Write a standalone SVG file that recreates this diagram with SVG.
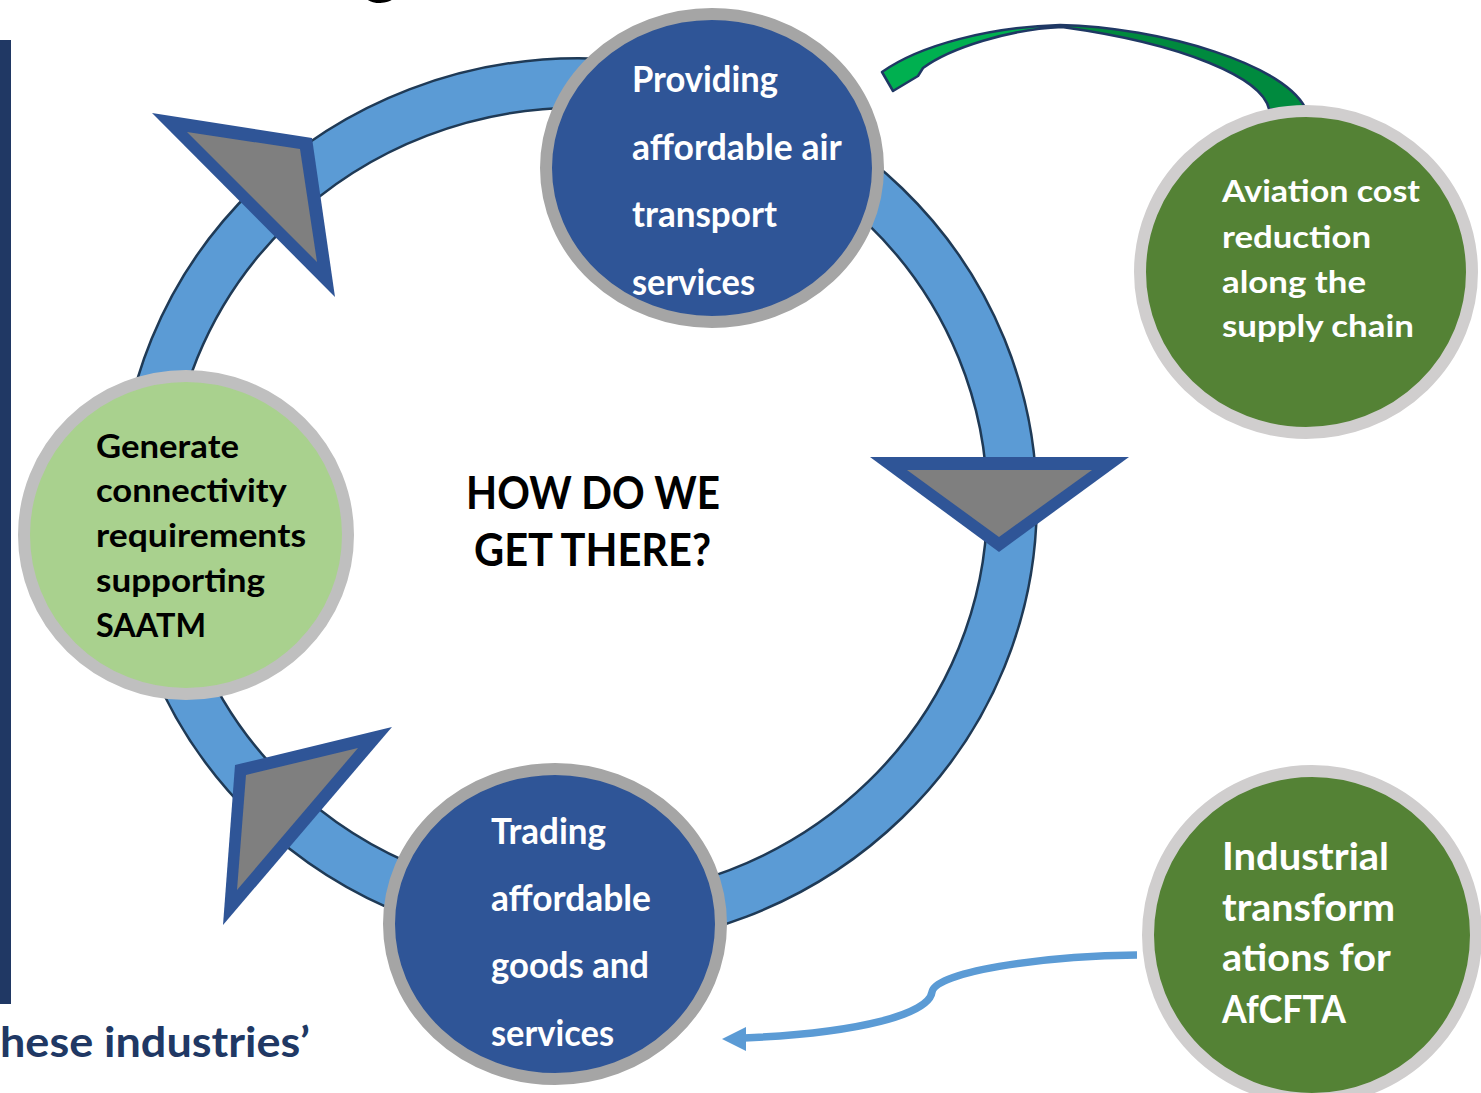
<svg xmlns="http://www.w3.org/2000/svg" width="1481" height="1093" viewBox="0 0 1481 1093">
<defs>
<style>
.t{font-family:Lato,"Open Sans","Liberation Sans",sans-serif;font-weight:bold}
.w{fill:#FFFFFF}
.k{fill:#000000}
.blue{fill:#2F5597;stroke:#A5A5A5;stroke-width:12}
.dg{fill:#548235;stroke:#D0CECE;stroke-width:12}
.lg{fill:#A9D18E;stroke:#BFBFBF;stroke-width:12}
.tri-o{fill:#2F5597}
.tri-i{fill:#7F7F7F}
</style>
<linearGradient id="gArrow" gradientUnits="userSpaceOnUse" x1="882" y1="0" x2="1307" y2="0">
<stop offset="0.42" stop-color="#00B050"/>
<stop offset="0.42" stop-color="#008A3E"/>
</linearGradient>
</defs>
<rect width="1481" height="1093" fill="#FFFFFF"/>
<text class="t k" x="362" y="-11" font-size="72">g</text>
<rect id="leftbar" x="0" y="40" width="11" height="964" fill="#203864"/>
<text class="t" x="0" y="1057" font-size="42" fill="#203864" textLength="310" lengthAdjust="spacingAndGlyphs">hese industries’</text>

<g id="connectors">
<g id="ring">
<ellipse cx="578" cy="503" rx="434" ry="420" fill="none" stroke="#1F3A56" stroke-width="52"/>
<ellipse cx="578" cy="503" rx="434" ry="420" fill="none" stroke="#5B9BD5" stroke-width="47"/>
</g>
<g id="arrow-tl">
<polygon class="tri-o" points="152,113 312,138 335,297"/>
<polygon class="tri-i" points="187,132 300,149 317,262"/>
</g>
<g id="arrow-r">
<polygon class="tri-o" points="870,457 1129,457 999,552"/>
<polygon class="tri-i" points="907,470 1092,470 999,537"/>
</g>
<g id="arrow-bl">
<polygon class="tri-o" points="235,765 392,727 223,925"/>
<polygon class="tri-i" points="246,775 358,748 237,890"/>
</g>
<path id="green-arrow" d="M882,72 C920,45 990,27 1060,25 C1160,27 1290,65 1307,112 L1269,109 C1262,78 1185,44 1062,27 C1010,29 950,48 923,68 L918,76 L893,91 Z" fill="url(#gArrow)" stroke="#1F3864" stroke-width="2.5" stroke-linejoin="round"/>
<path id="blue-link" d="M1137,955 C1040,956 935,972 932,992 C929,1014 860,1033 744,1038" fill="none" stroke="#5B9BD5" stroke-width="7.5"/>
<polygon points="722,1039 746,1027 746,1051" fill="#5B9BD5"/>
</g>

<g id="node-providing">
<ellipse class="blue" cx="712" cy="168" rx="166" ry="154"/>
<text class="t w" font-size="36">
<tspan x="632" y="92" textLength="146" lengthAdjust="spacingAndGlyphs">Providing</tspan>
<tspan x="632" y="160" textLength="209" lengthAdjust="spacingAndGlyphs">affordable air</tspan>
<tspan x="632" y="227" textLength="145" lengthAdjust="spacingAndGlyphs">transport</tspan>
<tspan x="632" y="295" textLength="123" lengthAdjust="spacingAndGlyphs">services</tspan>
</text>
</g>

<g id="node-trading">
<ellipse class="blue" cx="555" cy="924" rx="166" ry="155"/>
<text class="t w" font-size="36">
<tspan x="491" y="844" textLength="115" lengthAdjust="spacingAndGlyphs">Trading</tspan>
<tspan x="491" y="911" textLength="160" lengthAdjust="spacingAndGlyphs">affordable</tspan>
<tspan x="491" y="978" textLength="158" lengthAdjust="spacingAndGlyphs">goods and</tspan>
<tspan x="491" y="1046" textLength="123" lengthAdjust="spacingAndGlyphs">services</tspan>
</text>
</g>

<g id="node-generate">
<ellipse class="lg" cx="186" cy="535" rx="162" ry="159"/>
<text class="t k" font-size="32">
<tspan x="96" y="458" textLength="143" lengthAdjust="spacingAndGlyphs">Generate</tspan>
<tspan x="96" y="502" textLength="190" lengthAdjust="spacingAndGlyphs">connectivity</tspan>
<tspan x="96" y="547" textLength="210" lengthAdjust="spacingAndGlyphs">requirements</tspan>
<tspan x="96" y="592" textLength="169" lengthAdjust="spacingAndGlyphs">supporting</tspan>
<tspan x="96" y="637" textLength="110" lengthAdjust="spacingAndGlyphs">SAATM</tspan>
</text>
</g>

<g id="node-aviation">
<ellipse class="dg" cx="1306" cy="272" rx="166" ry="161"/>
<text class="t w" font-size="31">
<tspan x="1222" y="202" textLength="198" lengthAdjust="spacingAndGlyphs">Aviation cost</tspan>
<tspan x="1222" y="248" textLength="149" lengthAdjust="spacingAndGlyphs">reduction</tspan>
<tspan x="1222" y="293" textLength="144" lengthAdjust="spacingAndGlyphs">along the</tspan>
<tspan x="1222" y="337" textLength="192" lengthAdjust="spacingAndGlyphs">supply chain</tspan>
</text>
</g>

<g id="node-industrial">
<ellipse class="dg" cx="1312" cy="935" rx="164" ry="164"/>
<text class="t w" font-size="38">
<tspan x="1222" y="870" textLength="167" lengthAdjust="spacingAndGlyphs">Industrial</tspan>
<tspan x="1222" y="921" textLength="173" lengthAdjust="spacingAndGlyphs">transform</tspan>
<tspan x="1222" y="971" textLength="168" lengthAdjust="spacingAndGlyphs">ations for</tspan>
<tspan x="1222" y="1023" textLength="124" lengthAdjust="spacingAndGlyphs">AfCFTA</tspan>
</text>
</g>

<g id="center-label">
<text class="t k" font-size="46">
<tspan x="466" y="509" textLength="254" lengthAdjust="spacingAndGlyphs">HOW DO WE</tspan>
<tspan x="474" y="566" textLength="237" lengthAdjust="spacingAndGlyphs">GET THERE?</tspan>
</text>
</g>
</svg>
